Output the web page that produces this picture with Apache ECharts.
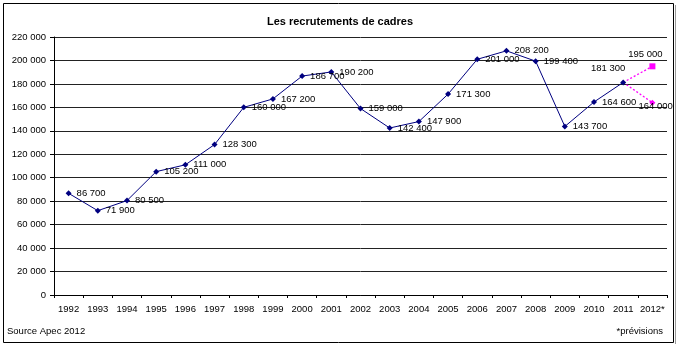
<!DOCTYPE html>
<html><head><meta charset="utf-8">
<script src="https://cdn.jsdelivr.net/npm/echarts@6/dist/echarts.min.js"></script>
<style>html,body{margin:0;padding:0;background:#fff}#c{width:680px;height:347px}</style>
</head><body><div id="c"></div>
<script>
const years = ['1992','1993','1994','1995','1996','1997','1998','1999','2000','2001','2002','2003','2004','2005','2006','2007','2008','2009','2010','2011','2012*'];
const recrutements = [86700,71900,80500,105200,111000,128300,160000,167200,186700,190200,159000,142400,147900,171300,201000,208200,199400,143700,164600,181300,null];
const previsionHaute = [null,null,null,null,null,null,null,null,null,null,null,null,null,null,null,null,null,null,null,181300,195000];
const previsionBasse = [null,null,null,null,null,null,null,null,null,null,null,null,null,null,null,null,null,null,null,181300,164000];
const yTicks = [0,20000,40000,60000,80000,100000,120000,140000,160000,180000,200000,220000];

const FONT = '"Liberation Sans", Arial, sans-serif';
const FS = 9.5;
const fmt = v => String(v).replace(/\B(?=(\d{3})+(?!\d))/g, ' ');

const chart = echarts.init(document.getElementById('c'), null, {renderer:'canvas'});
const mainData = recrutements.map((v,i) => {
  if (i === 19) return {value:v, label:{position:'top', offset:[-15,-1]}};
  return v;
});
const highData = previsionHaute.map((v,i) => i === 20 ? {value:v, symbol:'rect', symbolSize:6, label:{show:true, position:'top', offset:[-7,1]}} : (v === null ? null : {value:v, symbol:'none'}));
const lowData = previsionBasse.map((v,i) => i === 20 ? {value:v, symbol:'diamond', symbolSize:6, label:{show:true, position:'right', offset:[-22,4]}} : (v === null ? null : {value:v, symbol:'none'}));

chart.setOption({
  animation:false,
  backgroundColor:'#fff',
  textStyle:{fontFamily:FONT},
  title:{text:'Les recrutements de cadres', left:'center', top:11,
    textStyle:{fontFamily:FONT, fontSize:11, fontWeight:'bold', color:'#000'}},
  grid:{left:54, right:13, top:37, bottom:52, containLabel:false},
  xAxis:{type:'category', data:years, boundaryGap:true,
    axisLine:{lineStyle:{color:'#000', width:1}},
    axisTick:{show:true, length:3, lineStyle:{color:'#000'}},
    axisLabel:{color:'#000', fontSize:FS, fontFamily:FONT, margin:9, interval:0}},
  yAxis:{type:'value', min:0, max:220000, interval:20000,
    axisLine:{show:true, lineStyle:{color:'#000', width:1}},
    axisTick:{show:true, length:4, lineStyle:{color:'#000'}},
    axisLabel:{color:'#000', fontSize:FS, fontFamily:FONT, margin:8, formatter:v => fmt(v)},
    splitLine:{show:true, lineStyle:{color:'#222', width:1}}},
  series:[
    {type:'line', data:mainData, z:3,
      lineStyle:{color:'#000080', width:1}, itemStyle:{color:'#000080'},
      symbol:'diamond', symbolSize:6,
      label:{show:true, position:'right', distance:5, color:'#000', fontSize:FS, fontFamily:FONT, formatter:p => fmt(p.value)}},
    {type:'line', data:highData, z:2, connectNulls:false,
      lineStyle:{color:'#FF00FF', width:1.3, type:[2,2]}, itemStyle:{color:'#FF00FF'},
      label:{show:false, color:'#000', fontSize:FS, fontFamily:FONT, formatter:p => fmt(p.value)}},
    {type:'line', data:lowData, z:2,
      lineStyle:{color:'#FF00FF', width:1.3, type:[2,2]}, itemStyle:{color:'#FF00FF'},
      label:{show:false, color:'#000', fontSize:FS, fontFamily:FONT, formatter:p => fmt(p.value)}}
  ],
  graphic:[
    {type:'rect', shape:{x:3.5, y:3.5, width:670, height:339}, style:{fill:null, stroke:'#000', lineWidth:1}, z:-1},
    {type:'line', shape:{x1:675.5, y1:5, x2:675.5, y2:344}, style:{stroke:'#999', lineWidth:1}},
    {type:'text', left:7, top:326, style:{text:'Source Apec 2012', font:FS+'px '+FONT, fill:'#000'}},
    {type:'text', right:17, top:326, style:{text:'*prévisions', font:FS+'px '+FONT, fill:'#000'}}
  ]
});
</script></body></html>
